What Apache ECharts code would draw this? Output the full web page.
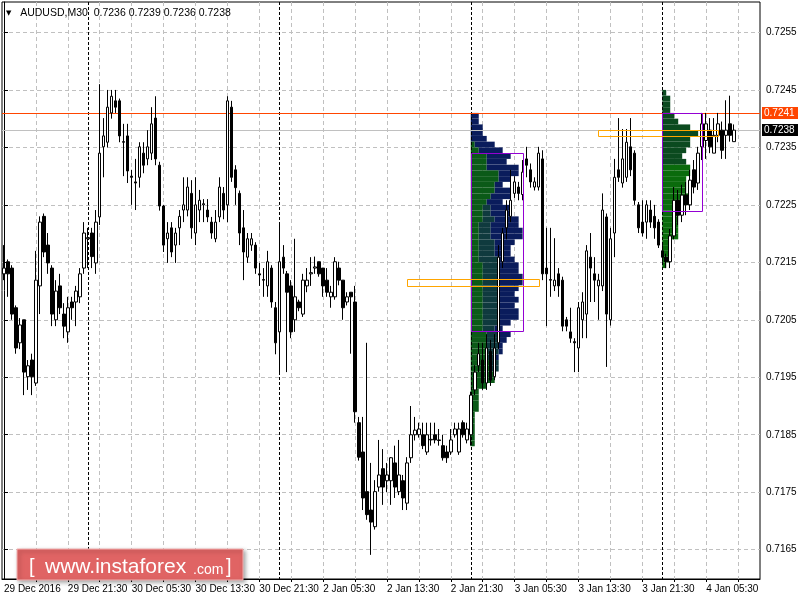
<!DOCTYPE html>
<html><head><meta charset="utf-8">
<script src="https://cdn.jsdelivr.net/npm/echarts@6/dist/echarts.min.js"></script>
<style>html,body{margin:0;padding:0;background:#fff}#chart{width:800px;height:600px}</style>
</head><body><div id="chart"></div>
<script>
// ---- axis / tick data ----
const tickLabels = ['29 Dec 2016','29 Dec 21:30','30 Dec 05:30','30 Dec 13:30','30 Dec 21:30','2 Jan 05:30','2 Jan 13:30','2 Jan 21:30','3 Jan 05:30','3 Jan 13:30','3 Jan 21:30','4 Jan 05:30'];
const tickBars = [0,16,32,48,64,80,96,112,128,144,160,176];
const gridBars = [8,16,24,32,40,48,56,64,72,80,88,96,104,112,120,128,136,144,152,160,168,176,184];
const yTicks = [0.7165,0.7175,0.7185,0.7195,0.7205,0.7215,0.7225,0.7235,0.7245,0.7255];
const Y_MIN = 0.71599, Y_MAX = 0.72603;
const BAR_SLOTS = 190;
const daySeparators = [21,69,117,165];
const priceLines = [0.7241, 0.7238];
const priceLineColors = ['#ff4500', '#c0c0c0'];
const priceLabelBg = ['#ff4500', '#000000'];

// ---- candles (AUDUSD M30) ----
const opens = [.72130,.72151,.72140,.72071,.72010,.72050,.71951,.71980,.71940,.72109,.72230,.72180,.72140,.72050,.72109,.72060,.72029,.72081,.72081,.72090,.72140,.72191,.72201,.72149,.72229,.72351,.72359,.72410,.72431,.72431,.72360,.72370,.72300,.72290,.72298,.72340,.72330,.72340,.72401,.72319,.72248,.72191,.72210,.72180,.72210,.72241,.72241,.72270,.72201,.72241,.72250,.72241,.72220,.72191,.72229,.72270,.72250,.72420,.72311,.72270,.72210,.72159,.72180,.72180,.72130,.72120,.72109,.72140,.72071,.72029,.72159,.72130,.72109,.72050,.72081,.72060,.72109,.72130,.72140,.72151,.72140,.72119,.72090,.72090,.72140,.72119,.72081,.72098,.72081,.71871,.71820,.71751,.71719,.71690,.71759,.71791,.71770,.71770,.71801,.71751,.71770,.71731,.71810,.71850,.71850,.71850,.71820,.71841,.71850,.71841,.71831,.71820,.71820,.71850,.71820,.71871,.71841,.71850,.71928,.71970,.71980,.71940,.71995,.71951,.72010,.72151,.72210,.72230,.72270,.72281,.72268,.72330,.72311,.72281,.72281,.72330,.72140,.72120,.72109,.72130,.72119,.72050,.72029,.72012,.72001,.72050,.72060,.72159,.72130,.72109,.72109,.72229,.72050,.72201,.72311,.72288,.72298,.72351,.72340,.72250,.72220,.72220,.72241,.72230,.72220,.72170,.72159,.72151,.72196,.72258,.72232,.72267,.72250,.72311,.72288,.72351,.72362,.72380,.72340,.72371,.72380,.72371,.72391,.72360];
const closes = [.72140,.72130,.72060,.72001,.72041,.71959,.71970,.71951,.72119,.72220,.72168,.72149,.72060,.72100,.72071,.72039,.72071,.72071,.72100,.72130,.72201,.72193,.72160,.72220,.72340,.72370,.72420,.72439,.72420,.72370,.72359,.72309,.72298,.72288,.72351,.72319,.72351,.72391,.72330,.72248,.72180,.72201,.72168,.72201,.72230,.72250,.72281,.72210,.72250,.72258,.72252,.72229,.72201,.72220,.72281,.72241,.72431,.72298,.72280,.72201,.72168,.72191,.72191,.72140,.72128,.72119,.72151,.72081,.72010,.72151,.72140,.72098,.72029,.72090,.72071,.72119,.72119,.72132,.72142,.72130,.72109,.72098,.72098,.72151,.72119,.72071,.72090,.72090,.71890,.71811,.71740,.71711,.71698,.71751,.71780,.71759,.71780,.71810,.71759,.71780,.71740,.71801,.71850,.71858,.71860,.71831,.71850,.71842,.71841,.71840,.71810,.71810,.71841,.71860,.71860,.71850,.71860,.71919,.71959,.71991,.71940,.72001,.71945,.72001,.72159,.72201,.72241,.72258,.72290,.72270,.72307,.72319,.72290,.72290,.72340,.72130,.72130,.72119,.72119,.72109,.72039,.72039,.72018,.72010,.72071,.72081,.72170,.72140,.72119,.72119,.72241,.72060,.72191,.72298,.72298,.72330,.72359,.72311,.72258,.72210,.72201,.72250,.72220,.72210,.72180,.72159,.72151,.72196,.72258,.72232,.72267,.72250,.72293,.72281,.72340,.72391,.72391,.72351,.72371,.72391,.72345,.72380,.72371,.72380];
const lows = [.72119,.72090,.72050,.71991,.71999,.71919,.71928,.71919,.71935,.72060,.72159,.72130,.72039,.72039,.72060,.72018,.72010,.72050,.72039,.72079,.72130,.72140,.72140,.72130,.72215,.72298,.72350,.72400,.72410,.72359,.72300,.72288,.72250,.72241,.72280,.72305,.72319,.72328,.72319,.72240,.72168,.72149,.72159,.72149,.72180,.72220,.72230,.72191,.72180,.72220,.72220,.72220,.72191,.72185,.72220,.72225,.72220,.72290,.72250,.72180,.72119,.72149,.72170,.72130,.72109,.72090,.72090,.72071,.71990,.71959,.72130,.71959,.72018,.72029,.72065,.72055,.72098,.72109,.72130,.72125,.72090,.72090,.72071,.72085,.72110,.72050,.72075,.71991,.71871,.71805,.71719,.71702,.71641,.71685,.71751,.71728,.71750,.71728,.71740,.71745,.71719,.71719,.71801,.71840,.71845,.71825,.71815,.71831,.71835,.71831,.71805,.71801,.71815,.71845,.71815,.71845,.71835,.71831,.71919,.71959,.71928,.71928,.71935,.71945,.71999,.72140,.72190,.72220,.72262,.72258,.72258,.72298,.72280,.72275,.72275,.72119,.72039,.72090,.72100,.72090,.72030,.72030,.72010,.71959,.71959,.72018,.72018,.72081,.72081,.72050,.72100,.71968,.72040,.72159,.72290,.72280,.72290,.72300,.72250,.72201,.72195,.72191,.72210,.72191,.72175,.72151,.72140,.72140,.72190,.72215,.72220,.72232,.72241,.72270,.72276,.72328,.72330,.72340,.72340,.72359,.72330,.72330,.72360,.72360];
const highs = [.72180,.72155,.72145,.72075,.72053,.72050,.71980,.71991,.72170,.72230,.72235,.72201,.72145,.72119,.72130,.72079,.72090,.72090,.72109,.72140,.72220,.72210,.72210,.72241,.72460,.72401,.72450,.72450,.72450,.72435,.72391,.72391,.72311,.72330,.72359,.72359,.72380,.72420,.72439,.72325,.72250,.72220,.72220,.72210,.72241,.72298,.72298,.72293,.72298,.72276,.72260,.72260,.72229,.72241,.72298,.72281,.72439,.72431,.72319,.72275,.72241,.72201,.72201,.72185,.72149,.72140,.72170,.72145,.72081,.72220,.72180,.72135,.72119,.72191,.72085,.72130,.72140,.72159,.72160,.72151,.72140,.72140,.72109,.72159,.72151,.72119,.72098,.72098,.72109,.71881,.71881,.72010,.71801,.71771,.71841,.71825,.71801,.71811,.71831,.71841,.71780,.71811,.71900,.71881,.71871,.71871,.71871,.71871,.71871,.71860,.71850,.71831,.71860,.71871,.71871,.71875,.71871,.71925,.71971,.72010,.72010,.72025,.72015,.72025,.72180,.72210,.72258,.72311,.72300,.72290,.72328,.72351,.72322,.72298,.72351,.72345,.72210,.72210,.72192,.72140,.72125,.72055,.72071,.72018,.72081,.72098,.72180,.72201,.72159,.72130,.72270,.72235,.72210,.72330,.72401,.72382,.72382,.72401,.72345,.72255,.72258,.72258,.72258,.72250,.72225,.72180,.72165,.72208,.72281,.72276,.72285,.72290,.72311,.72328,.72351,.72410,.72410,.72401,.72401,.72410,.72395,.72432,.72440,.72390];

// ---- market profile 1 (session from 3 Jan 00:00) ----
const PROFILE_STEP = 0.0001;
const p1Start = 117;
const p1Levels = [0.7241,0.7240,0.7239,0.7238,0.7237,0.7236,0.7235,0.7234,0.7233,0.7232,0.7231,0.7230,0.7229,0.7228,0.7227,0.7226,0.7225,0.7224,0.7223,0.7222,0.7221,0.7220,0.7219,0.7218,0.7217,0.7216,0.7215,0.7214,0.7213,0.7212,0.7211,0.7210,0.7209,0.7208,0.7207,0.7206,0.7205,0.7204,0.7203,0.7202,0.7201,0.7200,0.7199,0.7198,0.7197,0.7196,0.7195,0.7194,0.7193,0.7192,0.7191,0.7190,0.7189,0.7188,0.7187,0.7186,0.7185,0.7184];
const p1Green = [0,0,0,0,0,1,2,4,4,4,7,7,6,6,5,4,3,3,3,2,2,2,2,2,2,2,3,3,3,3,3,3,3,3,3,3,3,3,4,4,4,4,4,5,5,6,6,4,2,2,2,2,1,1,1,1,1,1];
const p1Teal  = [0,0,0,0,0,0,0,0,0,0,0,0,0,0,0,0,2,2,3,3,3,3,4,4,4,5,4,4,4,4,4,4,4,4,4,4,4,3,3,3,3,3,2,2,2,0,0,0,0,0,0,0,0,0,0,0,0,0];
const p1Navy  = [2,2,3,3,4,5,6,6,5,8,5,3,2,4,5,4,5,5,6,7,8,8,5,4,4,4,5,5,6,6,5,4,5,4,5,5,3,2,3,2,1,1,1,0,0,0,0,0,0,0,0,0,0,0,0,0,0,0];
// ---- market profile 2 (session from 4 Jan 00:00) ----
const p2Start = 165;
const p2Levels = [0.7245,0.7244,0.7243,0.7242,0.7241,0.7240,0.7239,0.7238,0.7237,0.7236,0.7235,0.7234,0.7233,0.7232,0.7231,0.7230,0.7229,0.7228,0.7227,0.7226,0.7225,0.7224,0.7223,0.7222,0.7221,0.7220,0.7219,0.7218,0.7217,0.7216,0.7215];
const p2Dark   = [1,2,2,2,3,4,7,9,7,7,6,5,6,0,0,0,0,0,0,0,0,0,0,0,0,0,0,0,0,0,0];
const p2Bright = [0,0,0,0,0,0,0,0,0,0,0,0,0,7,7,6,6,6,7,7,5,4,4,4,4,4,2,2,2,2,1];
const profColors = ['#0b5a18','#0f3a3e','#0a1c5c','#0b4a1f','#0a6b0c'];

// value areas and POC boxes
const vaStart = [117,165], vaEnd = [130,175], vaHigh = [0.7234,0.7241], vaLow = [0.7203,0.7224];
const pocStart = [101,149], pocEnd = [134,179], pocHigh = [0.72121,0.7238], pocLow = [0.72109,0.7237];
const boxColors = ['#9400d3','#ffa500'];

// ---- build series data ----
const categories = Array.from({length: BAR_SLOTS}, (_, i) => String(i));
const candleData = opens.map((o, i) => [o, closes[i], lows[i], highs[i]]);
const profData = [];
function addProfile(start, levels, segs, colorIdx) {
  levels.forEach((lv, r) => {
    let x = start;
    segs.forEach((arr, s) => {
      const n = arr[r];
      if (n > 0) { profData.push([x, x + n, lv, lv - PROFILE_STEP, colorIdx[s]]); x += n; }
    });
  });
}
addProfile(p1Start, p1Levels, [p1Green, p1Teal, p1Navy], [0,1,2]);
addProfile(p2Start, p2Levels, [p2Bright, p2Dark], [4,3]);
const boxData = [];
vaStart.forEach((s, i) => boxData.push([s, vaEnd[i], vaHigh[i], vaLow[i], 0]));
pocStart.forEach((s, i) => boxData.push([s, pocEnd[i], pocHigh[i], pocLow[i], 1]));
const sepData = daySeparators.map(b => [b, Y_MIN, Y_MAX]);
const lineData = priceLines.map((v, i) => [-0.5, BAR_SLOTS - 0.5, v, i]);
const last = opens.length - 1;
const f4 = v => v.toFixed(4);
const titleText = '{t|\u25BC}   AUDUSD,M30  ' + [opens[last], highs[last], lows[last], closes[last]].map(f4).join(' ');

const FONT = 'Liberation Sans';
const chart = echarts.init(document.getElementById('chart'), null, {renderer: 'canvas'});
chart.setOption({
  animation: false,
  backgroundColor: '#ffffff',
  textStyle: {fontFamily: FONT},
  title: {text: titleText, left: 1, top: 3, textStyle: {fontSize: 10.5, fontWeight: 'normal', color: '#000', fontFamily: FONT,
          rich: {t: {fontSize: 7, color: '#000', fontFamily: 'DejaVu Sans'}}}},
  grid: {left: 2, right: 40, top: 2, bottom: 21, show: true, borderColor: '#000', borderWidth: 1, backgroundColor: 'transparent'},
  xAxis: [
    {type: 'category', data: categories, show: false, boundaryGap: true},
    {type: 'value', min: -0.5, max: BAR_SLOTS - 0.5, position: 'bottom',
     axisLine: {show: true, onZero: false, lineStyle: {color: '#000'}},
     axisTick: {show: true, length: 3, customValues: gridBars, lineStyle: {color: '#000'}},
     axisLabel: {customValues: tickBars, align: 'left', margin: 5, fontSize: 10, color: '#000', fontFamily: FONT,
                 formatter: v => tickLabels[tickBars.indexOf(Math.round(v))] || ''},
     splitLine: {show: true, lineStyle: {color: '#c0c0c0', type: [4,3], width: 1}}}
  ],
  yAxis: [{type: 'value', min: Y_MIN, max: Y_MAX, position: 'right', scale: true,
    axisLine: {show: true, lineStyle: {color: '#000'}},
    axisTick: {show: true, length: 4, customValues: yTicks, lineStyle: {color: '#000'}},
    axisLabel: {customValues: yTicks, formatter: v => f4(v), margin: 6, fontSize: 10, color: '#000', fontFamily: FONT},
    splitLine: {show: true, lineStyle: {color: '#c0c0c0', type: [4,3], width: 1}}}],
  series: [
    {type: 'custom', name: 'profile', xAxisIndex: 1, yAxisIndex: 0, z: 2, silent: true, data: profData,
     encode: {x: [0,1], y: [2,3]},
     renderItem(params, api) {
       const a = api.coord([api.value(0), api.value(2)]);
       const b = api.coord([api.value(1), api.value(3)]);
       return {type: 'rect', shape: {x: a[0], y: a[1], width: b[0]-a[0], height: b[1]-a[1]}, style: {fill: profColors[api.value(4)]}};
     }},
    {type: 'custom', name: 'priceLines', xAxisIndex: 1, yAxisIndex: 0, z: 2.7, silent: true, clip: false, data: lineData,
     encode: {x: [0,1], y: 2},
     renderItem(params, api) {
       const a = api.coord([api.value(0), api.value(2)]);
       const b = api.coord([api.value(1), api.value(2)]);
       const i = api.value(3);
       const y = Math.round(a[1]) + 0.5;
       return {type: 'group', children: [
         {type: 'line', shape: {x1: a[0], y1: y, x2: b[0], y2: y}, style: {stroke: priceLineColors[i], lineWidth: 1}},
         {type: 'rect', shape: {x: b[0] + 2, y: Math.round(a[1]) - 6, width: 36, height: 12}, style: {fill: priceLabelBg[i]}},
         {type: 'text', x: b[0] + 4, y: Math.round(a[1]) + 0.5, style: {text: f4(api.value(2)), fill: '#fff', font: '10px "Liberation Sans"', verticalAlign: 'middle'}}
       ]};
     }},
    {type: 'custom', name: 'boxes', xAxisIndex: 1, yAxisIndex: 0, z: 4, silent: true, data: boxData,
     encode: {x: [0,1], y: [2,3]},
     renderItem(params, api) {
       const a = api.coord([api.value(0), api.value(2)]);
       const b = api.coord([api.value(1), api.value(3)]);
       const x = Math.round(a[0]) + 0.5, y = Math.round(a[1]) + 0.5;
       return {type: 'rect', shape: {x, y, width: Math.round(b[0]-a[0]), height: Math.max(1, Math.round(b[1]-a[1]))},
               style: {fill: 'none', stroke: boxColors[api.value(4)], lineWidth: 1}};
     }},
    {type: 'custom', name: 'separators', xAxisIndex: 1, yAxisIndex: 0, z: 2.5, silent: true, data: sepData,
     encode: {x: 0, y: [1,2]},
     renderItem(params, api) {
       const a = api.coord([api.value(0), api.value(2)]);
       const b = api.coord([api.value(0), api.value(1)]);
       const x = Math.round(a[0]) + 0.5;
       return {type: 'line', shape: {x1: x, y1: a[1], x2: x, y2: b[1]}, style: {stroke: '#000', lineWidth: 1, lineDash: [3,2]}};
     }},
    {type: 'candlestick', name: 'AUDUSD', xAxisIndex: 0, yAxisIndex: 0, z: 3, barWidth: 3, data: candleData,
     itemStyle: {color: '#ffffff', color0: '#000000', borderColor: '#000000', borderColor0: '#000000', borderWidth: 1}}
  ],
  graphic: [
    {type: 'rect', z: 100, shape: {x: 17, y: 549, width: 226, height: 31},
     style: {fill: '#e06464', stroke: '#f3b0b0', lineWidth: 1, shadowBlur: 4, shadowOffsetX: 2, shadowOffsetY: 2, shadowColor: 'rgba(0,0,0,0.35)'}},
    {type: 'text', z: 101, x: 29, y: 567, style: {text: '[', fill: '#fff', font: '20px "Liberation Sans"', verticalAlign: 'middle'}},
    {type: 'text', z: 101, x: 45, y: 567, style: {text: 'www.instaforex', fill: '#fff', font: '21px "Liberation Sans"', verticalAlign: 'middle'}},
    {type: 'text', z: 101, x: 193, y: 570, style: {text: '.com', fill: '#fff', font: '14px "Liberation Sans"', verticalAlign: 'middle'}},
    {type: 'text', z: 101, x: 226, y: 567, style: {text: ']', fill: '#fff', font: '20px "Liberation Sans"', verticalAlign: 'middle'}}
  ]
});
</script></body></html>
